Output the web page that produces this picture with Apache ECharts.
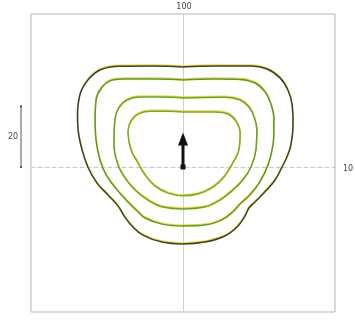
<!DOCTYPE html>
<html>
<head>
<meta charset="utf-8">
<script src="https://cdn.jsdelivr.net/npm/echarts@6/dist/echarts.min.js"></script>
<style>
  html, body { margin: 0; padding: 0; background: #fff; }
  #chart { width: 355px; height: 322px; }
</style>
</head>
<body>
<div id="chart"></div>
<script>
// Contour rings of the pattern, [x, y] in plot units, traced clockwise from top centre.
const ring1 = [[0,32.9],[10.5,33.2],[22.0,33.2],[27.6,32.2],[31.9,29.3],[34.5,25.3],[35.9,20.4],[36.2,13.8],[35.5,7.2],[34.2,3.3],[32.6,0],[30.3,-4.3],[26.6,-8.6],[23.7,-11.5],[21.7,-13.5],[20.4,-16.1],[18.1,-19.4],[13.8,-22.7],[7.2,-24.7],[0,-25.3],[-6.9,-24.7],[-13.2,-22.4],[-16.8,-19.4],[-19.4,-16.1],[-21.4,-12.8],[-24.7,-9.2],[-28.3,-5.3],[-31.3,0],[-33.2,5.6],[-34.5,12.2],[-34.7,17.5],[-34.5,20.4],[-33.6,24.7],[-31.3,28.6],[-27.3,31.9],[-20.7,33.1],[-10.0,33.2],[0,32.9]];
const ring2 = [[0,28.6],[10.5,28.9],[18.8,28.8],[23.7,27.6],[27.0,24.7],[28.9,20.7],[29.9,16.1],[29.9,11.5],[29.6,7.2],[28.0,0.7],[25.3,-4.9],[22.0,-9.2],[18.8,-12.2],[16.4,-14.8],[12.8,-17.4],[7.2,-19.1],[0,-19.4],[-6.9,-18.8],[-12.5,-16.8],[-15.1,-14.5],[-18.1,-11.5],[-22.0,-7.2],[-25.3,-2.6],[-27.3,2.3],[-28.6,8.9],[-28.9,15.5],[-28.6,22.0],[-27.0,25.7],[-24.0,28.3],[-19.7,28.9],[-9.2,28.9],[0,28.6]];
const ring3 = [[0,22.7],[13.8,22.9],[18.8,22.0],[21.7,19.7],[23.4,16.4],[24.3,12.2],[24.0,5.6],[22.4,0],[19.7,-4.3],[16.4,-7.6],[12.2,-10.9],[7.2,-13.2],[0,-13.8],[-6.6,-13.2],[-11.5,-10.9],[-15.8,-7.6],[-19.1,-3.6],[-21.4,0.7],[-22.7,7.2],[-22.4,15.5],[-21.1,19.4],[-18.4,22.0],[-14.1,23.0],[-7.0,23.0],[0,22.7]];
const ring4 = [[0,18.1],[10.5,18.1],[14.8,17.4],[17.4,15.1],[18.8,11.2],[18.4,5.6],[16.4,1.3],[13.5,-3.3],[9.5,-6.9],[4.9,-8.9],[0,-9.5],[-4.9,-8.6],[-9.2,-6.3],[-12.5,-2.6],[-14.8,1.3],[-17.1,5.6],[-18.1,11.5],[-17.1,15.1],[-14.8,17.4],[-10.9,18.3],[-5.0,18.3],[0,18.1]];

// Direction arrow: base and head, plot units.
const arrowPts = [[0, 0], [0, 9.2]];

// Scale bar (plot units) and edge labels.
const scaleBar = [0, 20];
const topLabel = '100';
const scaleLabel = '20';
const rightLabel = '10';

const chart = echarts.init(document.getElementById('chart'), null, { renderer: 'canvas' });

function ring(data, color, width) {
  return {
    type: 'line', data: data, smooth: 0.4, showSymbol: false, silent: true,
    lineStyle: {
      color: color, width: width,
      shadowColor: 'rgba(232,222,20,0.95)', shadowBlur: 0, shadowOffsetY: -1, shadowOffsetX: 0
    },
    z: 3
  };
}

chart.setOption({
  animation: false,
  grid: { left: 31, top: 14, width: 304, height: 298, show: true, borderColor: '#b4b4b4', borderWidth: 1 },
  xAxis: {
    type: 'value', min: -50, max: 50,
    axisLine: { show: true, onZero: true, lineStyle: { color: '#c8c8c8', type: [4, 3], width: 1 } },
    axisTick: { show: false }, axisLabel: { show: false }, splitLine: { show: false }
  },
  yAxis: {
    type: 'value', min: -47.7, max: 50.3,
    axisLine: { show: true, onZero: true, lineStyle: { color: '#cfcfcf', width: 1 } },
    axisTick: { show: false }, axisLabel: { show: false }, splitLine: { show: false }
  },
  series: [
    ring(ring1, '#3d3d3d', 1.5),
    ring(ring2, '#5e9630', 1.5),
    ring(ring3, '#6aa032', 1.5),
    ring(ring4, '#78a836', 1.5),
    {
      type: 'line', data: arrowPts, silent: true, z: 5,
      lineStyle: { color: '#111', width: 3 },
      symbol: function (v, p) { return p.dataIndex === 0 ? 'rect' : 'triangle'; },
      symbolSize: function (v, p) { return p.dataIndex === 0 ? [5, 5] : [10, 13]; },
      itemStyle: { color: '#111' },
      showSymbol: true
    }
  ]
});

// Annotations placed through the chart's own coordinate conversion.
const g = chart.getModel().getComponent('grid').coordinateSystem.getRect();
const pBar0 = chart.convertToPixel({ gridIndex: 0 }, [0, scaleBar[0]]);
const pBar1 = chart.convertToPixel({ gridIndex: 0 }, [0, scaleBar[1]]);
const pTop = chart.convertToPixel({ gridIndex: 0 }, [0, 0]);
const barX = g.x - 10;

chart.setOption({
  graphic: [
    { type: 'line', shape: { x1: barX, y1: pBar0[1], x2: barX, y2: pBar1[1] }, style: { stroke: '#555', lineWidth: 1 } },
    { type: 'rect', shape: { x: barX - 1, y: pBar0[1] - 1, width: 2, height: 2 }, style: { fill: '#555' } },
    { type: 'rect', shape: { x: barX - 1, y: pBar1[1] - 1, width: 2, height: 2 }, style: { fill: '#555' } },
    { type: 'text', x: barX - 8, y: (pBar0[1] + pBar1[1]) / 2,
      style: { text: scaleLabel, font: '8px "DejaVu Sans", sans-serif', fill: '#444', align: 'center', verticalAlign: 'middle' } },
    { type: 'text', x: pTop[0] + 1, y: g.y - 7,
      style: { text: topLabel, font: '8px "DejaVu Sans", sans-serif', fill: '#444', align: 'center', verticalAlign: 'middle' } },
    { type: 'text', x: g.x + g.width + 8, y: pTop[1] + 2,
      style: { text: rightLabel, font: '8px "DejaVu Sans", sans-serif', fill: '#444', align: 'left', verticalAlign: 'middle' } }
  ]
});
</script>
</body>
</html>
